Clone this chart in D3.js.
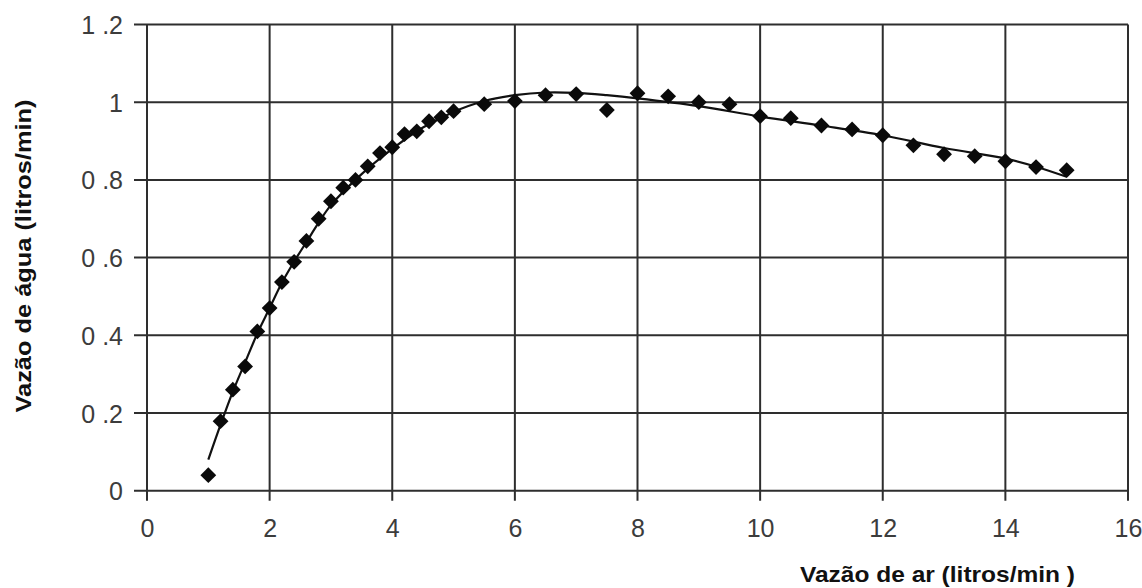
<!DOCTYPE html>
<html>
<head>
<meta charset="utf-8">
<script src="https://cdn.jsdelivr.net/npm/d3@7"></script>
<style>
  html, body { margin: 0; padding: 0; background: #fff; }
  svg { display: block; }
</style>
</head>
<body>
<svg id="chart" width="1142" height="588"></svg>
<script>
// ---- Data ----
const pointX = [1.0, 1.2, 1.4, 1.6, 1.8, 2.0, 2.2, 2.4, 2.6, 2.8, 3.0, 3.2, 3.4, 3.6, 3.8, 4.0, 4.2, 4.4, 4.6, 4.8, 5.0,
                5.5, 6.0, 6.5, 7.0, 7.5, 8.0, 8.5, 9.0, 9.5, 10.0, 10.5, 11.0, 11.5, 12.0, 12.5, 13.0, 13.5, 14.0, 14.5, 15.0];
const pointY = [0.04, 0.179, 0.26, 0.32, 0.41, 0.47, 0.537, 0.589, 0.643, 0.70, 0.745, 0.78, 0.80, 0.835, 0.869, 0.884, 0.918, 0.925, 0.951, 0.961, 0.977,
                0.995, 1.003, 1.018, 1.021, 0.98, 1.023, 1.015, 1.0, 0.995, 0.964, 0.959, 0.94, 0.93, 0.915, 0.889, 0.866, 0.861, 0.848, 0.833, 0.825];

const curveX = [1.0, 1.2, 1.4, 1.6, 1.8, 2.0, 2.2, 2.4, 2.6, 2.8, 3.0, 3.5, 4.0, 4.5, 5.0, 5.5, 6.0, 6.5, 7.0, 7.5, 8.0, 9.0, 10.0, 11.0, 12.0, 13.0, 14.0, 14.5, 15.0];
const curveY = [0.08, 0.17, 0.255, 0.33, 0.405, 0.47, 0.535, 0.59, 0.64, 0.69, 0.735, 0.815, 0.88, 0.935, 0.975, 1.003, 1.018, 1.025, 1.024, 1.018, 1.01, 0.99, 0.963, 0.94, 0.915, 0.882, 0.855, 0.834, 0.808];

const xTicks = [0, 2, 4, 6, 8, 10, 12, 14, 16];
const yTicks = [0, 0.2, 0.4, 0.6, 0.8, 1, 1.2];
const yTickLabels = ["0", "0 .2", "0 .4", "0 .6", "0 .8", "1", "1 .2"];
const xTitle = "Vazão de ar (litros/min )";
const yTitle = "Vazão de água (litros/min)";

// ---- Layout ----
const svg = d3.select("#chart");
const plotLeft = 147, plotRight = 1128, plotTop = 24.5, plotBottom = 490.7;

const x = d3.scaleLinear().domain([0, 16]).range([plotLeft, plotRight]);
const y = d3.scaleLinear().domain([0, 1.2]).range([plotBottom, plotTop]);

const gridColor = "#2e2e2e";

// Grid lines
svg.append("g").selectAll("line").data(yTicks).join("line")
  .attr("x1", x(0) - 13).attr("x2", x(16))
  .attr("y1", d => y(d)).attr("y2", d => y(d))
  .attr("stroke", gridColor).attr("stroke-width", 2);

svg.append("g").selectAll("line").data(xTicks).join("line")
  .attr("x1", d => x(d)).attr("x2", d => x(d))
  .attr("y1", y(1.2)).attr("y2", y(0) + 10)
  .attr("stroke", gridColor).attr("stroke-width", 2);

// Axis labels via d3 axes (text only)
const yAxis = d3.axisLeft(y).tickValues(yTicks).tickSize(0).tickPadding(0)
  .tickFormat((d, i) => yTickLabels[i]);
const gy = svg.append("g").attr("transform", `translate(${plotLeft - 24},0)`).call(yAxis);
gy.select(".domain").remove();
gy.selectAll("text").attr("font-family", "Liberation Sans, Arial, sans-serif")
  .attr("font-size", 25).attr("fill", "#3c3c3c").attr("dy", "0.36em");

const xAxis = d3.axisBottom(x).tickValues(xTicks).tickSize(0).tickPadding(0)
  .tickFormat(d3.format("d"));
const gx = svg.append("g").attr("transform", `translate(0,${plotBottom + 46})`).call(xAxis);
gx.select(".domain").remove();
gx.selectAll("text").attr("font-family", "Liberation Sans, Arial, sans-serif")
  .attr("font-size", 25).attr("fill", "#3c3c3c").attr("dy", 0);

// Fitted curve
const curveData = curveX.map((v, i) => [v, curveY[i]]);
svg.append("path")
  .datum(curveData)
  .attr("d", d3.line().x(d => x(d[0])).y(d => y(d[1])).curve(d3.curveCatmullRom.alpha(0.5)))
  .attr("fill", "none").attr("stroke", "#111").attr("stroke-width", 2.2);

// Diamond markers
const pts = pointX.map((v, i) => [v, pointY[i]]);
const sym = d3.symbol().type(d3.symbolSquare).size(125);
svg.append("g").selectAll("path").data(pts).join("path")
  .attr("d", sym)
  .attr("transform", d => `translate(${x(d[0])},${y(d[1])}) rotate(45)`)
  .attr("fill", "#0a0a0a");

// Titles
svg.append("text")
  .attr("x", 800).attr("y", 582)
  .attr("font-family", "Liberation Sans, Arial, sans-serif")
  .attr("font-weight", "bold").attr("font-size", 22).attr("fill", "#111")
  .attr("textLength", 275).attr("lengthAdjust", "spacingAndGlyphs")
  .text(xTitle);

svg.append("text")
  .attr("transform", `translate(31,256) rotate(-90)`)
  .attr("text-anchor", "middle")
  .attr("font-family", "Liberation Sans, Arial, sans-serif")
  .attr("font-weight", "bold").attr("font-size", 22).attr("fill", "#111")
  .attr("textLength", 313).attr("lengthAdjust", "spacingAndGlyphs")
  .text(yTitle);
</script>
</body>
</html>
